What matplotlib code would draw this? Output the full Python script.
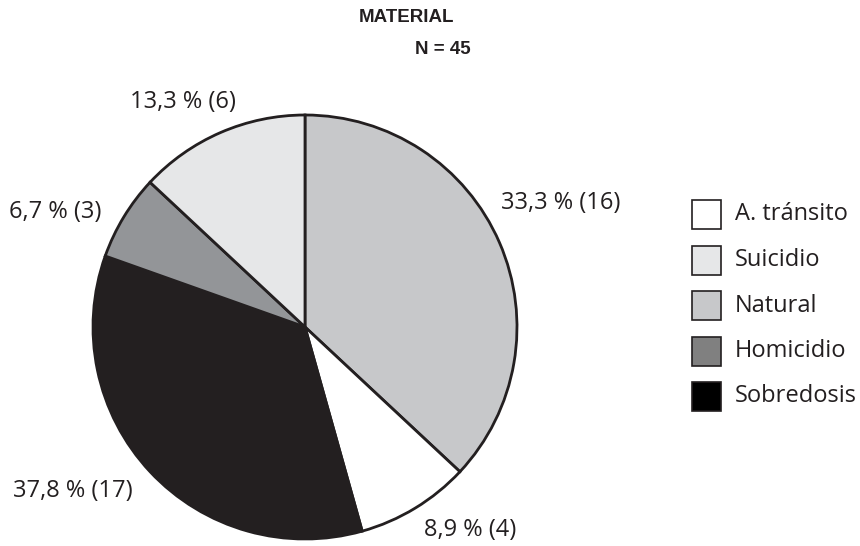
import matplotlib.pyplot as plt
from matplotlib.patches import Rectangle

plt.rcParams['font.family'] = ['Open Sans', 'DejaVu Sans']

# slices clockwise from the top, as drawn
slices = ['Natural', 'A. tránsito', 'Sobredosis', 'Homicidio', 'Suicidio']
drawn_counts = [17, 4, 16, 3, 6]
slice_labels = ['33,3 % (16)', '8,9 % (4)', '37,8 % (17)', '6,7 % (3)', '13,3 % (6)']
colors = {'A. tránsito': '#ffffff', 'Suicidio': '#e6e7e8', 'Natural': '#c7c8ca',
          'Homicidio': '#939598', 'Sobredosis': '#231f20'}
legend_order = ['A. tránsito', 'Suicidio', 'Natural', 'Homicidio', 'Sobredosis']
legend_colors = {'A. tránsito': '#ffffff', 'Suicidio': '#e6e7e8', 'Natural': '#c7c8ca',
                 'Homicidio': '#808080', 'Sobredosis': '#000000'}

W, H = 860, 546
fig = plt.figure(figsize=(W / 100, H / 100), dpi=100)
ax = fig.add_axes([0, 0, 1, 1])

cx, cy, r = 305, H - 327, 212
ax.pie(drawn_counts, colors=[colors[s] for s in slices], startangle=90, counterclock=False,
       center=(cx, cy), radius=r, frame=True,
       wedgeprops=dict(edgecolor='#231f20', linewidth=2))
ax.set_xlim(0, W)
ax.set_ylim(0, H)
ax.set_aspect('equal')
ax.axis('off')

label_pos = [(561, H - 203), (470, H - 530), (73, H - 491), (55, H - 212), (183, H - 102)]
for (x, y), t in zip(label_pos, slice_labels):
    ax.text(x, y, t, ha='center', va='center', fontsize=17, color='#231f20')

title_font = ['Liberation Sans', 'DejaVu Sans']
ax.text(407, H - 18, 'MATERIAL', ha='center', va='center', fontsize=13.5,
        fontweight='bold', color='#231f20', family=title_font)
ax.text(443, H - 50, 'N = 45', ha='center', va='center', fontsize=13.5,
        fontweight='bold', color='#231f20', family=title_font)

for i, name in enumerate(legend_order):
    y = H - 200 - i * 45.5
    ax.add_patch(Rectangle((692, y - 29), 29, 29, facecolor=legend_colors[name],
                           edgecolor='#231f20', linewidth=1.2))
    ax.text(735, y - 14.5, name, ha='left', va='center', fontsize=17, color='#231f20')

fig.savefig('out.png', dpi=100)
